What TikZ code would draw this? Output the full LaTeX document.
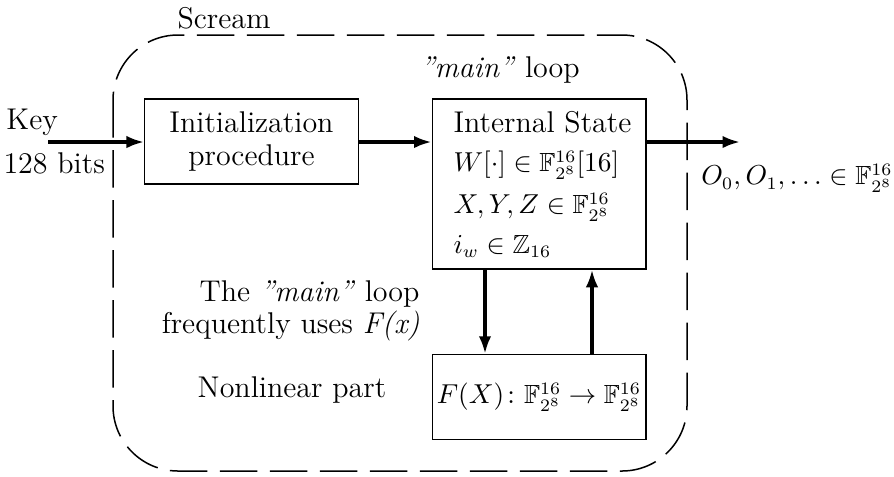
\documentclass[tikz,border=0pt]{standalone}
\usepackage{amsmath}
\usepackage{amssymb}
\usetikzlibrary{arrows.meta,positioning}

\begin{document}
\begin{tikzpicture}[x=0.4pt, y=-0.4pt, every node/.style={font=\fontsize{12}{13}\selectfont},
    blockbox/.style={draw, line width=0.6pt, minimum width=85.4pt, minimum height=34pt, align=center, inner sep=0pt},
    plain/.style={inner sep=0pt},
    mathtext/.style={inner sep=0pt, font=\fontsize{10.5}{12}\selectfont},
    flow/.style={line width=1.3pt, -{Latex[length=7pt,width=5pt]}}]
    \useasboundingbox (0,0) rectangle (894,476);
    % the Scream frame
    \draw[line width=0.6pt, dash pattern=on 15pt off 5pt, rounded corners=26pt] (113,35) rectangle (687,471);
    \node[plain, anchor=west] (scream) at (177,18) {Scream};
    \node[plain] (looplbl) at (500,70) {\textit{"main"} loop};
    % blocks
    \node[blockbox] (init) at (251.5,141.5) {Initialization\\procedure};
    \node[blockbox, minimum height=68pt] (state) at (539,184) {};
    \node[blockbox, font=\fontsize{10.5}{12}\selectfont] (fx) at (539,397) {$F(X)\colon \mathbb{F}_{2^8}^{16} \to \mathbb{F}_{2^8}^{16}$};
    % contents of the internal state
    \node[plain, anchor=west] (title) at (453,122) {Internal State};
    \node[mathtext, anchor=west] (wreg) at (453,165) {$W[\cdot] \in \mathbb{F}_{2^8}^{16}[16]$};
    \node[mathtext, anchor=west] (xyz) at (453,207) {$X, Y, Z \in \mathbb{F}_{2^8}^{16}$};
    \node[mathtext, anchor=west] (iw) at (453,246) {$i_w \in \mathbb{Z}_{16}$};
    % outside labels
    \node[plain, anchor=west] (keylbl) at (6,122) {Key};
    \node[plain, anchor=west] (bits) at (3,163) {128 bits};
    \node[mathtext, anchor=east] (outlbl) at (893,178) {$O_0, O_1, \ldots \in \mathbb{F}_{2^8}^{16}$};
    \node[plain, anchor=east, align=right] (note) at (420,311) {The \textit{"main"} loop\\frequently uses \textit{F(x)}};
    \node[plain] (nonlin) at (292,390) {Nonlinear part};
    % connectors
    \coordinate (keyin) at (48,142);
    \coordinate (out) at (740,142);
    \coordinate (dn) at (485,0);
    \coordinate (up) at (592,0);
    \draw[flow] (keyin) -- (keyin -| init.west);
    \draw[flow] (keyin -| init.east) -- (keyin -| state.west);
    \draw[flow] (keyin -| state.east) -- (out);
    \draw[flow] (state.south -| dn) -- (fx.north -| dn);
    \draw[flow] (fx.north -| up) -- (state.south -| up);
\end{tikzpicture}
\end{document}
